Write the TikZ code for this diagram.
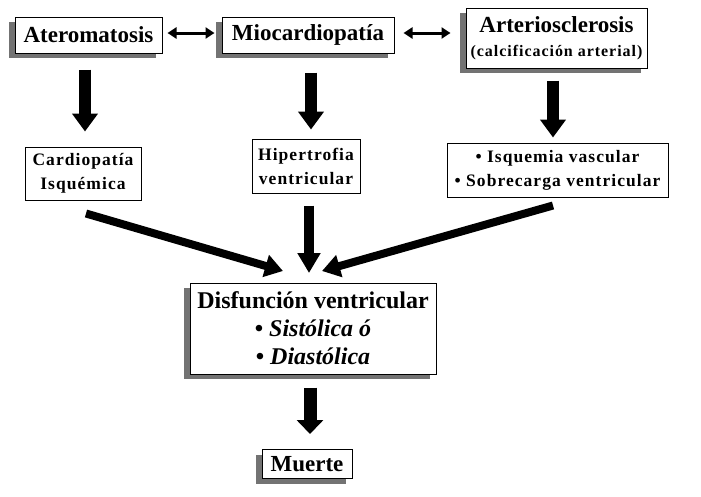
\documentclass[tikz,border=0pt]{standalone}
\usepackage{fontspec}
\setmainfont{Liberation Serif}
\newfontfamily\spacedfont[LetterSpace=6]{Liberation Serif}
\usetikzlibrary{arrows.meta,shadows}
\tikzset{
  box/.style={draw=black, line width=1pt, fill=white, inner sep=0pt, align=center},
  shbox/.style={box, drop shadow={shadow xshift=-6pt, shadow yshift=-5pt, fill=gray!90!black, opacity=1}},
  big/.style={font=\fontsize{23}{27}\selectfont\bfseries},
  mid/.style={font=\fontsize{17.5}{24}\selectfont\spacedfont\bfseries},
  vblock/.style={line width=12pt, -{Triangle[width=25pt,length=18pt]}},
  dblock/.style={line width=8pt, -{Triangle[width=22pt,length=18pt]}},
  dbl/.style={line width=3pt, {Triangle[width=11pt,length=9pt]}-{Triangle[width=11pt,length=9pt]}}
}
\begin{document}
\begin{tikzpicture}[x=1pt,y=-1pt]
\useasboundingbox (0,0) rectangle (701,496);
\node[shbox, big, minimum width=147pt, minimum height=36pt] (atero) at (88.5,35) {Ateromatosis};
\node[shbox, big, minimum width=172pt, minimum height=36pt] (mio) at (308,35) {Miocardiopatía};
\node[shbox, minimum width=181pt, minimum height=60pt, font=\fontsize{23}{24}\selectfont\bfseries] (arte) at (556.5,38)
  {Arteriosclerosis\\{\fontsize{16}{24}\selectfont\spacedfont\bfseries (calcificación arterial)}};
\node[box, mid, minimum width=116pt, minimum height=53pt] (cardio) at (83,173.5) {Cardiopatía\\Isquémica};
\node[box, mid, minimum width=108pt, minimum height=54pt] (hiper) at (306,166) {Hipertrofia\\ventricular};
\node[box, mid, minimum width=221pt, minimum height=54pt] (isq) at (557.5,170) {• Isquemia vascular\\• Sobrecarga ventricular};
\node[shbox, minimum width=246pt, minimum height=91pt, font=\fontsize{24}{28}\selectfont\bfseries] (dis) at (313,328.5)
  {Disfunción ventricular\\• \textit{Sistólica ó}\\• \textit{Diastólica}};
\node[shbox, big, minimum width=90pt, minimum height=29pt] (muerte) at (307,464) {Muerte};
\coordinate (convl) at (283,271);
\coordinate (convm) at (309,273);
\coordinate (convr) at (322,271);
% double arrows
\draw[dbl] ([xshift=5pt,yshift=2pt]atero.east) -- ([xshift=-7pt,yshift=2pt]mio.west);
\draw[dbl] ([xshift=9pt,yshift=2pt]mio.east) -- ([xshift=-15pt,yshift=5pt]arte.west);
% vertical block arrows
\draw[vblock] ([xshift=-3.5pt,yshift=-16pt]atero.south) -- ([xshift=2pt,yshift=15pt]cardio.north);
\draw[vblock] ([xshift=3pt,yshift=-19pt]mio.south) -- ([xshift=5pt,yshift=9pt]hiper.north);
\draw[vblock] ([xshift=-3.5pt,yshift=-12pt]arte.south) -- ([xshift=-4.5pt,yshift=5pt]isq.north);
\draw[vblock, line width=10pt, -{Triangle[width=22pt,length=20pt]}] ([xshift=3pt,yshift=-12pt]hiper.south) -- (convm);
\draw[dblock] ([xshift=3pt,yshift=-13pt]cardio.south) -- (convl);
\draw[dblock] ([xshift=-4.5pt,yshift=-8pt]isq.south) -- (convr);
\draw[vblock, line width=13pt, -{Triangle[width=26pt,length=14pt]}] ([xshift=-3pt,yshift=-13pt]dis.south) -- ([xshift=3pt,yshift=15pt]muerte.north);
\end{tikzpicture}
\end{document}
